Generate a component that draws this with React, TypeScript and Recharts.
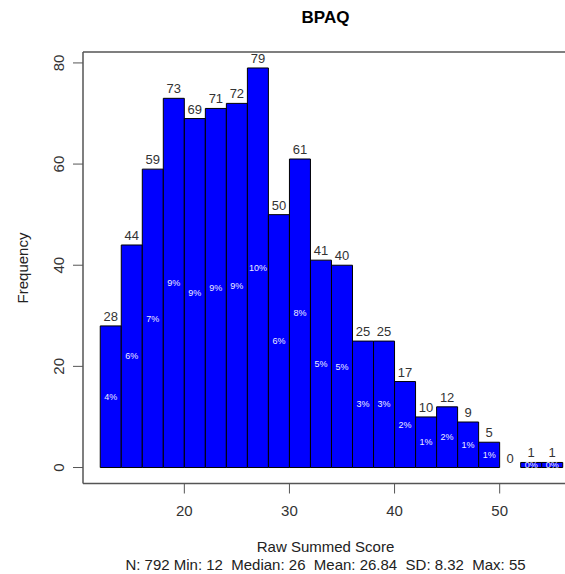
import { ComposedChart, Bar, Line, XAxis, YAxis, LabelList, ReferenceLine } from "recharts";

// histogram bins (width 2)
const binStarts = [12, 14, 16, 18, 20, 22, 24, 26, 28, 30, 32, 34, 36, 38, 40, 42, 44, 46, 48, 50, 52, 54];
const counts = [28, 44, 59, 73, 69, 71, 72, 79, 50, 61, 41, 40, 25, 25, 17, 10, 12, 9, 5, 0, 1, 1];
const pctLabels = ["4%", "6%", "7%", "9%", "9%", "9%", "9%", "10%", "6%", "8%", "5%", "5%", "3%", "3%", "2%", "1%", "2%", "1%", "1%", "0%", "0%", "0%"];
const xTicks = [20, 30, 40, 50];
const yTicks = [0, 20, 40, 60, 80];

const data = binStarts.map((start, i) => ({
  start,
  count: counts[i],
  pct: pctLabels[i],
}));

const FONT = "'Liberation Sans', Arial, sans-serif";
const FRAME = "#555";

const X_MIN = 10.36;
const X_MAX = 56.5;
const BIN_MIN = 12;
const BIN_MAX = 56;
const PLOT_LEFT = 83;
const PLOT_RIGHT = 568;
const pxPerUnit = (PLOT_RIGHT - PLOT_LEFT) / (X_MAX - X_MIN);

function YTick(props: any) {
  const { x, y, payload } = props;
  return (
    <text
      x={x}
      y={y}
      transform={`rotate(-90, ${x}, ${y})`}
      textAnchor="middle"
      dominantBaseline="central"
      fontSize={15}
      fontFamily={FONT}
      fill="#333"
    >
      {payload.value}
    </text>
  );
}

export default function App() {
  return (
    <div
      style={{
        position: "absolute",
        left: 0,
        top: 0,
        width: 565,
        height: 574,
        overflow: "hidden",
        background: "#fff",
        fontFamily: FONT,
      }}
    >
      <div style={{ position: "absolute", top: 8, left: 0, width: 651, textAlign: "center", fontSize: 17, fontWeight: "bold", color: "#000" }}>
        BPAQ
      </div>
      <div
        style={{
          position: "absolute",
          left: 22,
          top: 268,
          transform: "translate(-50%, -50%) rotate(-90deg)",
          fontSize: 15,
          color: "#222",
          whiteSpace: "nowrap",
        }}
      >
        Frequency
      </div>
      <div style={{ position: "absolute", top: 538, left: 0, width: 651, textAlign: "center", fontSize: 15, color: "#222" }}>
        Raw Summed Score
      </div>
      <div style={{ position: "absolute", top: 556, left: 0, width: 651, textAlign: "center", fontSize: 15, color: "#222", whiteSpace: "pre" }}>
        {"N: 792 Min: 12  Median: 26  Mean: 26.84  SD: 8.32  Max: 55"}
      </div>

      <ComposedChart
        width={600}
        height={574}
        data={data}
        margin={{ top: 52, right: 600 - PLOT_RIGHT, left: 0, bottom: 0 }}
        barCategoryGap={0}
        style={{ position: "absolute", left: 0, top: 0 }}
      >
        <XAxis
          xAxisId="bins"
          dataKey="start"
          type="category"
          hide
          height={0}
          padding={{ left: (BIN_MIN - X_MIN) * pxPerUnit, right: (X_MAX - BIN_MAX) * pxPerUnit }}
        />
        <XAxis
          xAxisId="num"
          dataKey="start"
          type="number"
          domain={[X_MIN, X_MAX]}
          ticks={xTicks}
          allowDataOverflow
          height={90.5}
          tickSize={10}
          tickMargin={12}
          tick={{ fontSize: 15, fill: "#333", fontFamily: FONT }}
          axisLine={{ stroke: FRAME, strokeWidth: 1.5 }}
          tickLine={{ stroke: FRAME }}
        />
        <YAxis
          domain={[-3.16, 82.16]}
          ticks={yTicks}
          allowDataOverflow
          width={PLOT_LEFT}
          tickSize={10}
          tickMargin={14}
          tick={<YTick />}
          axisLine={{ stroke: FRAME, strokeWidth: 1.5 }}
          tickLine={{ stroke: FRAME }}
        />
        <ReferenceLine xAxisId="num" y={82.16} stroke={FRAME} strokeWidth={1.5} />
        <Bar
          xAxisId="bins"
          dataKey="count"
          fill="#0000ff"
          stroke="#000"
          strokeWidth={1}
          isAnimationActive={false}
        >
          <LabelList dataKey="pct" position="center" fontSize={9} fill="#eeeeff" fontFamily={FONT} />
        </Bar>
        {/* invisible series carrying the count labels, so the empty bin gets its "0" too */}
        <Line
          xAxisId="bins"
          dataKey="count"
          stroke="none"
          dot={false}
          activeDot={false}
          isAnimationActive={false}
        >
          <LabelList dataKey="count" position="top" offset={5} fontSize={13} fill="#333" fontFamily={FONT} />
        </Line>
      </ComposedChart>
    </div>
  );
}
